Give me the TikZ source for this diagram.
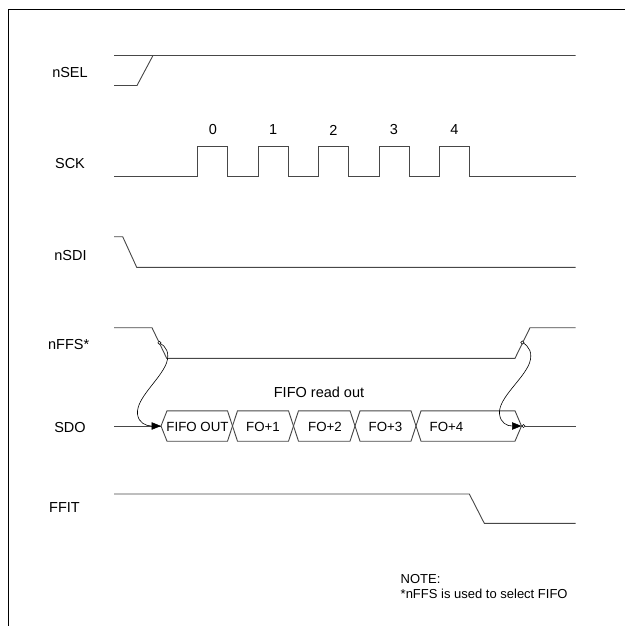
\documentclass[tikz,border=0pt]{standalone}
\usepackage{fontspec}
\setmainfont{Liberation Sans}
\usetikzlibrary{arrows.meta}
\begin{document}
\begin{tikzpicture}[x=1pt,y=-1pt,
  sig/.style={draw=black!72,line width=0.9pt},
  lbl/.style={font=\fontsize{14.5}{16}\selectfont,inner sep=0pt},
  buslbl/.style={font=\fontsize{13.3}{15}\selectfont,inner sep=0pt},
  note/.style={font=\fontsize{13}{15}\selectfont,inner sep=0pt,anchor=base west},
  cause/.style={draw=black,line width=0.6pt,-{Triangle[length=9.5pt,width=7.5pt]}},
  dot/.style={draw=black,fill=white,line width=0.5pt}]
\useasboundingbox (0,0) rectangle (625,626);
% frame
\draw[black,line width=1pt] (8,626) -- (8,10) -- (625,10);
% labels
\node[lbl] (lsel) at (70,73) {nSEL};
\node[lbl] (lsck) at (70,164) {SCK};
\node[lbl] (lsdi) at (70.5,256) {nSDI};
\node[lbl] (lffs) at (68.7,345) {nFFS*};
\node[lbl] (lsdo) at (70,428) {SDO};
\node[lbl] (lfit) at (64.5,508) {FFIT};
% nSEL
\draw[sig] (114,85.5) -- (137,85.5) -- (153,55.5) -- (575.5,55.5);
\draw[sig] (114,55.5) -- (153,55.5);
% SCK
\draw[sig] (114,176.7) -- (197.7,176.7) -- (197.7,146.7) -- (227.3,146.7) -- (227.3,176.7)
  -- (258,176.7) -- (258,146.7) -- (288.3,146.7) -- (288.3,176.7)
  -- (318.3,176.7) -- (318.3,146.7) -- (348.3,146.7) -- (348.3,176.7)
  -- (379,176.7) -- (379,146.7) -- (409.3,146.7) -- (409.3,176.7)
  -- (439.3,176.7) -- (439.3,146.7) -- (469.3,146.7) -- (469.3,176.7) -- (575.5,176.7);
\node[lbl] (c0) at (212.8,130) {0};
\node[lbl] (c1) at (273.2,130) {1};
\node[lbl] (c2) at (333.3,130) {2};
\node[lbl] (c3) at (394,130) {3};
\node[lbl] (c4) at (454.3,130) {4};
% nSDI
\draw[sig] (114,236.7) -- (122.7,236.7) -- (136.7,267.3) -- (575.5,267.3);
% nFFS
\draw[sig] (114,327.7) -- (152,327.7) -- (166.7,358.3) -- (515,358.3) -- (530,327.7) -- (575.5,327.7);
\coordinate (ffsA) at (159.4,342.8);
\coordinate (ffsB) at (522.4,342.5);
% SDO
\coordinate (sdoA) at (161,426);
\coordinate (sdoB) at (521.5,426);
\draw[sig] (114,426) -- (sdoA);
\draw[sig] (sdoA) -- (167,410.8) -- (227.5,410.8) -- (237.5,441.2) -- (288.5,441.2) -- (298.5,410.8)
  -- (350,410.8) -- (360,441.2) -- (411,441.2) -- (421,410.8) -- (515,410.8) -- (sdoB);
\draw[sig] (sdoA) -- (167,441.2) -- (227.5,441.2) -- (237.5,410.8) -- (288.5,410.8) -- (298.5,441.2)
  -- (350,441.2) -- (360,410.8) -- (411,410.8) -- (421,441.2) -- (515,441.2) -- (sdoB);
\draw[sig] (sdoB) -- (575.5,426);
\node[buslbl] (b0) at (197.5,426.5) {FIFO OUT};
\node[buslbl] (b1) at (263,426.5) {FO+1};
\node[buslbl] (b2) at (325,426.5) {FO+2};
\node[buslbl] (b3) at (385.5,426.5) {FO+3};
\node[buslbl] (b4) at (446.5,426.5) {FO+4};
\node[lbl] (rd) at (319,392) {FIFO read out};
% FFIT
\draw[sig] (114,494) -- (469.3,494) -- (484.3,523.3) -- (575.5,523.3);
% cause arrows
\draw[cause] (ffsA) .. controls (166,346) and (170,353) .. (166.5,363)
  .. controls (160,380) and (136,398) .. (137.5,414)
  .. controls (138.5,423) and (146,426) .. (sdoA);
\draw[cause] (ffsB) .. controls (529,346) and (533,353) .. (529.5,363)
  .. controls (523,380) and (498,398) .. (499.5,414)
  .. controls (500.5,423) and (507,426) .. (sdoB);
\draw[dot] (ffsA) circle (1.6);
\draw[dot] (ffsB) circle (1.6);
\draw[dot] (523.5,426) circle (1.6);
% note
\node[note] (n1) at (400.5,583) {NOTE:};
\node[note] (n2) at (400.5,598) {*nFFS is used to select FIFO};
\end{tikzpicture}
\end{document}
